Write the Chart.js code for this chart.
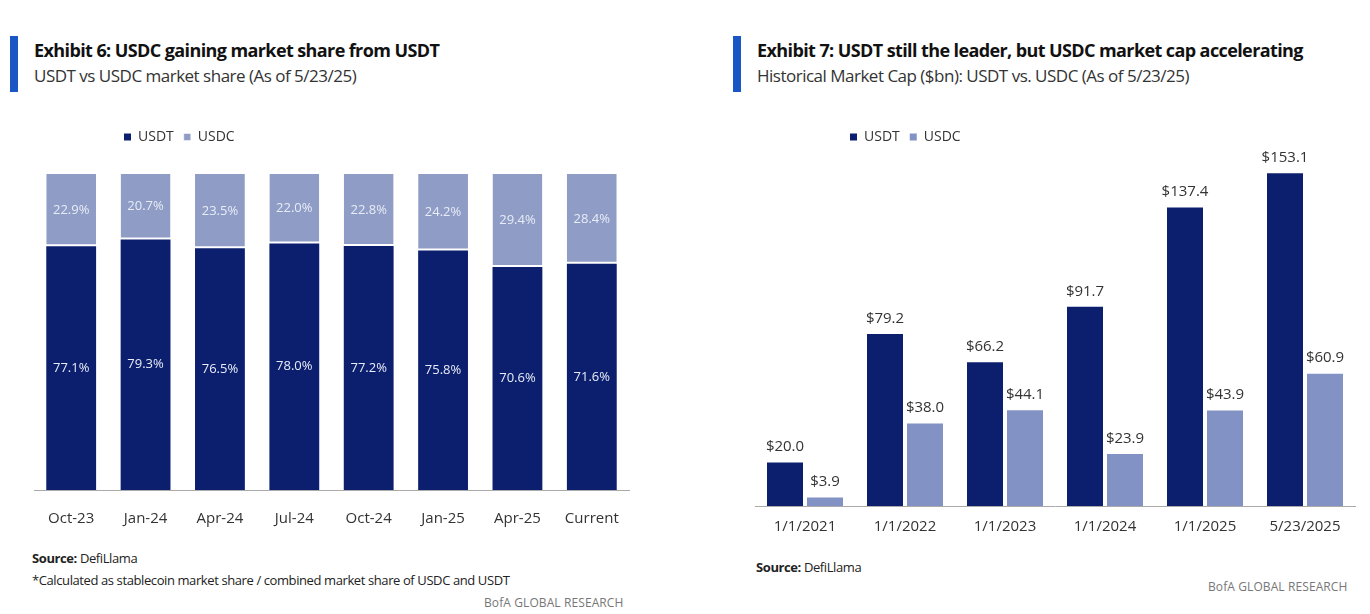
<!DOCTYPE html>
<html>
<head>
<meta charset="utf-8">
<script src="https://cdn.jsdelivr.net/npm/chart.js@4"></script>
<style>
  body { margin: 0; width: 1370px; height: 614px; background: #fff; font-family: "Open Sans", sans-serif; position: relative; overflow: hidden; }
  .hdr { position: absolute; top: 36px; border-left: 8px solid #1a56c4; padding-left: 16px; height: 56px; }
  .hdr b { display: block; font-size: 18px; color: #111; letter-spacing: -0.6px; margin-top: 2px; }
  .hdr span { display: block; font-size: 17px; color: #333; letter-spacing: -0.5px; margin-top: 2px; }
  .box { position: absolute; }
  .note { position: absolute; font-size: 13px; color: #222; letter-spacing: -0.4px; }
  .brand { position: absolute; font-size: 12px; color: #777; letter-spacing: 0.1px; }
</style>
</head>
<body>
<div class="hdr" style="left:10px"><b>Exhibit 6: USDC gaining market share from USDT</b><span>USDT vs USDC market share (As of 5/23/25)</span></div>
<div class="hdr" style="left:733px"><b>Exhibit 7: USDT still the leader, but USDC market cap accelerating</b><span>Historical Market Cap ($bn): USDT vs. USDC (As of 5/23/25)</span></div>
<div class="box" style="left:10px;top:120px;width:630px;height:420px"><canvas id="share"></canvas></div>
<div class="box" style="left:740px;top:120px;width:630px;height:420px"><canvas id="cap"></canvas></div>
<div class="note" style="left:32px;top:549px"><b>Source:</b> DefiLlama</div>
<div class="note" style="left:32px;top:571px">*Calculated as stablecoin market share / combined market share of USDC and USDT</div>
<div class="brand" style="left:484px;top:594px">BofA GLOBAL RESEARCH</div>
<div class="note" style="left:756px;top:558px"><b>Source:</b> DefiLlama</div>
<div class="brand" style="left:1208px;top:578px">BofA GLOBAL RESEARCH</div>
<script>
const shareLabels = ['Oct-23', 'Jan-24', 'Apr-24', 'Jul-24', 'Oct-24', 'Jan-25', 'Apr-25', 'Current'];
const usdtShare = [77.1, 79.3, 76.5, 78.0, 77.2, 75.8, 70.6, 71.6];
const usdcShare = [22.9, 20.7, 23.5, 22.0, 22.8, 24.2, 29.4, 28.4];

const capLabels = ['1/1/2021', '1/1/2022', '1/1/2023', '1/1/2024', '1/1/2025', '5/23/2025'];
const usdtCap = [20.0, 79.2, 66.2, 91.7, 137.4, 153.1];
const usdcCap = [3.9, 38.0, 44.1, 23.9, 43.9, 60.9];

const navy = '#0c1f6e';
const light = '#8e9cc6';
const font = { family: 'Open Sans', size: 14 };

// draws value labels on each bar
const valueLabels = {
  id: 'valueLabels',
  afterDatasetsDraw(chart, args, opts) {
    const ctx = chart.ctx;
    ctx.save();
    ctx.font = (opts.size || 14) + 'px "Open Sans"';
    ctx.textAlign = 'center';
    chart.data.datasets.forEach((ds, i) => {
      chart.getDatasetMeta(i).data.forEach((bar, j) => {
        const v = ds.data[j];
        if (opts.inside) {
          ctx.fillStyle = '#e8ecf6';
          ctx.textBaseline = 'middle';
          ctx.fillText(v.toFixed(1) + '%', bar.x, (bar.y + bar.base) / 2);
        } else {
          ctx.fillStyle = '#333';
          ctx.textBaseline = 'bottom';
          ctx.fillText('$' + v.toFixed(1), bar.x, bar.y - 8);
        }
      });
    });
    ctx.restore();
  }
};

function legendPlugin(shift, extra) {
  return {
    id: 'legendShift',
    beforeInit(chart) {
      const fit = chart.legend.fit;
      chart.legend.fit = function () {
        fit.bind(chart.legend)();
        this.height += extra;
      };
    },
    afterUpdate(chart) {
      chart.legend.left += shift;
      chart.legend.legendHitBoxes.forEach(b => b.left += shift);
    }
  };
}

const legendOpts = {
  position: 'top', align: 'start',
  labels: { boxWidth: 7, boxHeight: 7, font: font, color: '#333', padding: 10 }
};

new Chart(document.getElementById('share'), {
  type: 'bar',
  data: {
    labels: shareLabels,
    datasets: [
      { label: 'USDT', data: usdtShare, backgroundColor: navy, barPercentage: 0.67, categoryPercentage: 1 },
      { label: 'USDC', data: usdcShare, backgroundColor: light, borderColor: '#fff', borderWidth: { bottom: 2 }, borderSkipped: false, barPercentage: 0.67, categoryPercentage: 1 }
    ]
  },
  options: {
    responsive: true, maintainAspectRatio: false, animation: false,
    layout: { padding: { left: 24, right: 11, top: 0, bottom: 0 } },
    plugins: {
      legend: legendOpts,
      tooltip: { enabled: false },
      valueLabels: { inside: true, size: 13 }
    },
    scales: {
      x: { stacked: true, grid: { display: false }, border: { color: '#aaa' }, ticks: { font: { family: 'Open Sans', size: 15 }, color: '#333', padding: 12 } },
      y: { stacked: true, display: false, min: 0, max: 100 }
    }
  },
  plugins: [valueLabels, legendPlugin(80, 20)]
});

new Chart(document.getElementById('cap'), {
  type: 'bar',
  data: {
    labels: capLabels,
    datasets: [
      { label: 'USDT', data: usdtCap, backgroundColor: navy, barPercentage: 0.9, categoryPercentage: 0.8 },
      { label: 'USDC', data: usdcCap, backgroundColor: '#8292c4', barPercentage: 0.9, categoryPercentage: 0.8 }
    ]
  },
  options: {
    responsive: true, maintainAspectRatio: false, animation: false,
    layout: { padding: { left: 15, right: 15, top: 0, bottom: 0 } },
    plugins: {
      legend: legendOpts,
      tooltip: { enabled: false },
      valueLabels: { inside: false, size: 15 }
    },
    scales: {
      x: { grid: { display: false }, border: { color: '#aaa' }, ticks: { font: { family: 'Open Sans', size: 15 }, color: '#333', padding: 4 } },
      y: { display: false, min: 0, max: 162 }
    }
  },
  plugins: [valueLabels, legendPlugin(85, 0)]
});
</script>
</body>
</html>
